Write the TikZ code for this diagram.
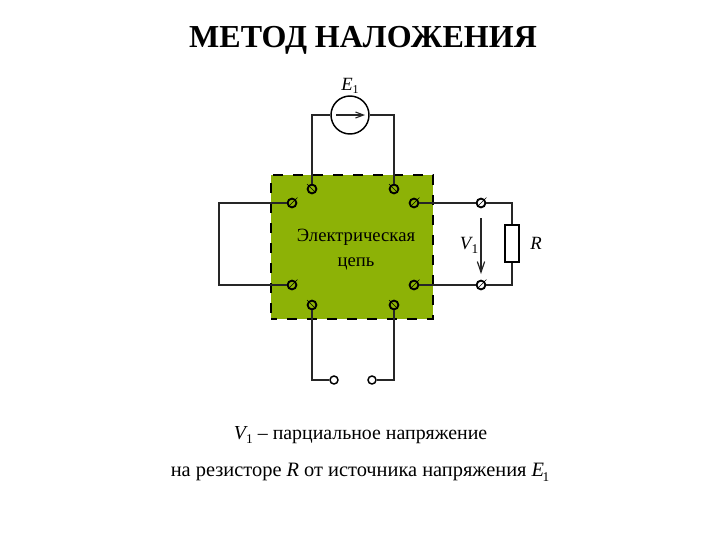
\documentclass[tikz,border=0pt]{standalone}
\usepackage{fontspec}
\setmainfont{Liberation Serif}
\usetikzlibrary{arrows.meta}
\definecolor{olivebox}{RGB}{141,178,6}
\tikzset{
  x=0.75pt,y=-0.75pt,
  wire/.style={line width=1.1pt,black!85},
  termbase/.style={circle,draw=black,line width=1.4pt,fill=none,minimum size=6.6pt,inner sep=0pt},
  termA/.style={termbase,append after command={[line width=1.2pt,black] (\tikzlastnode.135) ++(135:1.2pt) edge (\tikzlastnode.-45)}},
  termB/.style={termbase,append after command={[line width=1.2pt,black] (\tikzlastnode.45) ++(45:1.8pt) edge (\tikzlastnode.-135)}},
  openterm/.style={circle,draw=black,line width=1.1pt,fill=white,minimum size=6pt,inner sep=0pt},
  label/.style={inner sep=0pt,font=\fontsize{14}{16}\selectfont}
}
\newcommand{\lowone}{\kern-0.08em\raisebox{-0.25em}{\fontsize{10}{10}\selectfont 1}}
\begin{document}
\begin{tikzpicture}
\useasboundingbox (0,0) rectangle (720,540);
\fill[white] (0,0) rectangle (720,540);
\node[anchor=base,inner sep=0pt,font=\bfseries\fontsize{24}{26}\selectfont] (title) at (363,47) {МЕТОД НАЛОЖЕНИЯ};
\node (box) [draw=black,fill=olivebox,line width=1.4pt,dash pattern=on 7.5pt off 7.5pt,dash phase=3pt,minimum width=121.5pt,minimum height=108pt,inner sep=0pt] at (352,247) {};
% terminals
\node[termA] (t1) at (312,189) {};
\node[termA] (t2) at (394,189) {};
\node[termB] (l1) at (292,203) {};
\node[termB] (l2) at (292,285) {};
\node[termB] (r1) at (414,203) {};
\node[termB] (r2) at (414,285) {};
\node[termA] (b1) at (312,305) {};
\node[termA] (b2) at (394,305) {};
\node[termB] (o1) at (481,203) {};
\node[termB] (o2) at (481,285) {};
\node[openterm] (p1) at (334,380) {};
\node[openterm] (p2) at (372,380) {};
% source
\node[circle,draw=black,line width=1.1pt,minimum size=28.5pt,inner sep=0pt] (src) at (350,115) {};
\coordinate (sa) at (336,115);
\coordinate (sb) at (365,115);
\draw[wire,line width=0.8pt,-{Straight Barb[length=6pt,width=4.5pt]}] (sa) -- (sb);
\draw[wire] (t1) |- (src.west);
\draw[wire] (t2) |- (src.east);
% left loop
\coordinate (lc) at (219,244);
\draw[wire] (l1) -| (lc) |- (l2);
% right
\draw[wire] (r1) -- (o1);
\draw[wire] (r2) -- (o2);
\node[draw=black,fill=white,line width=1.2pt,minimum width=10.5pt,minimum height=27.5pt,inner sep=0pt] (res) at (512,243.5) {};
\draw[wire] (o1) -| (res.north);
\draw[wire] (o2) -| (res.south);
\coordinate (va) at (481,218);
\coordinate (vb) at (481,274);
\draw[wire,line width=0.9pt,-{Straight Barb[length=8pt,width=5.5pt]}] (va) -- (vb);
% bottom
\draw[wire] (b1) |- (p1);
\draw[wire] (b2) |- (p2);
% labels
\node[label,anchor=base] (e1) at (350,90) {\textit{E}\raisebox{-0.2em}{\fontsize{9}{9}\selectfont 1}};
\node[label,align=center,font=\fontsize{14}{18.75}\selectfont] (ckt) at (356,250) {Электрическая\\цепь};
\node[label,anchor=base] (v1) at (469,249) {\textit{V}\lowone};
\node[label,anchor=base] (rl) at (536,249) {\textit{R}};
\node[label,anchor=base,font=\fontsize{14.9}{16}\selectfont] (c1) at (360.5,439) {\textit{V}\lowone{} – парциальное напряжение};
\node[label,anchor=base,font=\fontsize{15.3}{16}\selectfont] (c2) at (360,476) {на резисторе \textit{R} от источника напряжения \textit{E}\lowone};
\end{tikzpicture}
\end{document}
